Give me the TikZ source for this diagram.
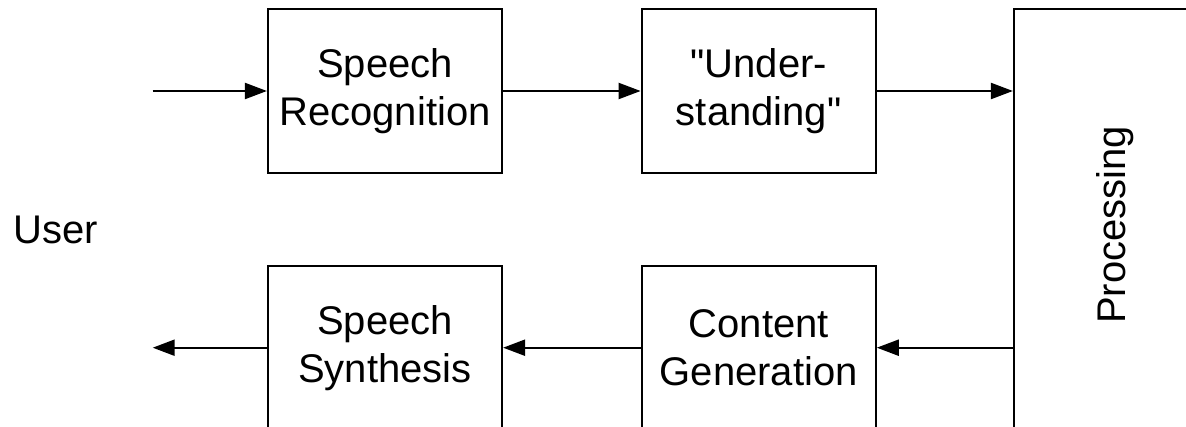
\documentclass[tikz,border=0pt]{standalone}
\usepackage{fontspec}
\setmainfont{Liberation Sans}[Ligatures=TeXOff]
\usetikzlibrary{arrows.meta}
\begin{document}
\begin{tikzpicture}[x=1pt,y=-1pt,
  lbl/.style={font=\fontsize{40}{48}\selectfont, inner sep=0pt},
  blk/.style={lbl, draw, line width=2.2pt, minimum width=234pt, minimum height=163.4pt, align=center},
  conn/.style={line width=2.2pt, -{Triangle[length=22pt,width=16pt]}}]
\useasboundingbox (0,0) rectangle (1186,427);
\node[blk] (sr) at (385,91) {Speech\\Recognition};
\node[blk] (un) at (758.7,91) {"Under-\\standing"};
\node[blk] (ss) at (385,347.7) {Speech\\Synthesis};
\node[blk] (cg) at (758.7,347.7) {Content\\Generation};
\node[draw, line width=2.2pt, minimum width=202pt, minimum height=431.4pt] (pr) at (1115,225) {};
\node[lbl, rotate=90] (prl) at (pr.center) {Processing};
\node[lbl, anchor=base] (user) at (56,243.3) {User};
\coordinate (in) at (152.7,91);
\coordinate (out) at (152.7,347.7);
\draw[conn] (in) -- (sr.west);
\draw[conn] (sr.east) -- (un.west);
\draw[conn] (un.east) -- (un.east -| pr.west);
\draw[conn] (pr.west |- cg.east) -- (cg.east);
\draw[conn] (cg.west) -- (ss.east);
\draw[conn] (ss.west) -- (out);
\end{tikzpicture}
\end{document}
